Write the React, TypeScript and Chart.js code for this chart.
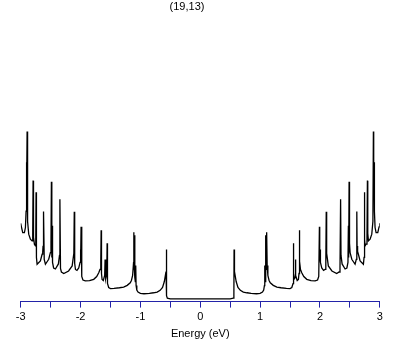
import { useEffect, useRef } from "react";
import { Chart, registerables } from "chart.js";

Chart.register(...registerables);

const chartTitle = "(19,13)";
const axisTitle = "Energy (eV)";
const tickValues = [-3, -2.5, -2, -1.5, -1, -0.5, 0, 0.5, 1, 1.5, 2, 2.5, 3];
const labeledTicks = [-3, -2, -1, 0, 1, 2, 3];

// Density of states, negative-energy half (eV, arbitrary units)
const energyLeft = [
  -3.0, -2.988, -2.966, -2.938, -2.921, -2.91, -2.905, -2.898, -2.893, -2.885,
  -2.866, -2.838, -2.81, -2.799, -2.793, -2.786, -2.771, -2.754, -2.748, -2.743,
  -2.737, -2.726, -2.671, -2.642, -2.632, -2.626, -2.621, -2.616, -2.607, -2.587,
  -2.532, -2.504, -2.494, -2.487, -2.48, -2.475, -2.468, -2.45, -2.42, -2.37,
  -2.352, -2.345, -2.335, -2.32, -2.28, -2.2, -2.14, -2.112, -2.105, -2.098,
  -2.085, -2.06, -2.03, -2.008, -2.002, -1.996, -1.991, -1.98, -1.96, -1.92,
  -1.85, -1.78, -1.73, -1.696, -1.675, -1.662, -1.656, -1.65, -1.64, -1.62,
  -1.597, -1.59, -1.585, -1.575, -1.562, -1.556, -1.55, -1.53, -1.5, -1.44,
  -1.35, -1.28, -1.22, -1.17, -1.15, -1.13, -1.118, -1.111, -1.108, -1.1,
  -1.095, -1.092, -1.085, -1.078, -1.072, -1.06, -1.04, -1.0, -0.94, -0.85,
  -0.78, -0.72, -0.67, -0.63, -0.6, -0.572, -0.565, -0.562, -0.55, -0.5,
];
const dosLeft = [
  7.8, 7.45, 6.88, 6.88, 7.38, 9.0, 13.88, 11.0, 16.95, 8.0,
  6.72, 6.22, 6.05, 6.8, 12.05, 6.4, 5.72, 5.55, 6.2, 10.88,
  4.4, 3.72, 4.05, 4.72, 5.0, 5.55, 5.0, 8.98, 4.2, 3.72,
  4.22, 4.88, 5.8, 11.95, 4.4, 7.55, 3.9, 3.35, 3.25, 3.75,
  4.6, 10.2, 3.3, 2.95, 2.8, 3.05, 3.55, 4.8, 8.95, 3.8,
  3.2, 3.1, 3.35, 3.9, 5.2, 4.0, 7.45, 2.5, 2.15, 2.06,
  2.08, 2.22, 2.5, 2.88, 3.2, 4.0, 7.1, 2.8, 2.2, 2.1,
  2.6, 4.2, 2.4, 2.3, 2.8, 5.8, 1.8, 1.4, 1.3, 1.32,
  1.38, 1.45, 1.62, 1.88, 2.1, 2.6, 3.6, 6.9, 3.4, 3.2,
  6.6, 2.4, 2.0, 3.6, 1.6, 1.15, 0.95, 0.82, 0.78, 0.82,
  0.88, 0.95, 1.12, 1.4, 2.0, 3.0, 5.2, 0.6, 0.35, 0.28,
];

// Density of states, positive-energy half (eV, arbitrary units)
const energyRight = [
  0.0, 0.5, 0.55, 0.562, 0.565, 0.572, 0.6, 0.63, 0.67, 0.72,
  0.78, 0.85, 0.94, 1.0, 1.04, 1.06, 1.072, 1.078, 1.085, 1.092,
  1.095, 1.1, 1.108, 1.111, 1.118, 1.13, 1.15, 1.17, 1.22, 1.28,
  1.35, 1.44, 1.5, 1.53, 1.55, 1.556, 1.562, 1.575, 1.585, 1.59,
  1.597, 1.62, 1.64, 1.65, 1.656, 1.662, 1.675, 1.696, 1.73, 1.78,
  1.85, 1.92, 1.96, 1.98, 1.991, 1.996, 2.002, 2.008, 2.03, 2.06,
  2.085, 2.098, 2.105, 2.112, 2.14, 2.2, 2.28, 2.32, 2.335, 2.345,
  2.352, 2.37, 2.42, 2.45, 2.468, 2.475, 2.48, 2.487, 2.494, 2.504,
  2.532, 2.587, 2.607, 2.616, 2.621, 2.626, 2.632, 2.642, 2.671, 2.726,
  2.737, 2.743, 2.748, 2.754, 2.771, 2.786, 2.793, 2.799, 2.81, 2.838,
  2.866, 2.885, 2.893, 2.898, 2.905, 2.91, 2.921, 2.938, 2.966, 2.988,
  3.0,
];
const dosRight = [
  0.28, 0.28, 0.35, 0.6, 5.2, 3.0, 2.0, 1.4, 1.12, 0.95,
  0.88, 0.82, 0.78, 0.82, 0.95, 1.15, 1.6, 3.6, 2.0, 2.4,
  6.6, 3.2, 3.4, 6.9, 3.6, 2.6, 2.1, 1.88, 1.62, 1.45,
  1.38, 1.32, 1.3, 1.4, 1.8, 5.8, 2.8, 2.3, 2.4, 4.2,
  2.6, 2.1, 2.2, 2.8, 7.1, 4.0, 3.2, 2.88, 2.5, 2.22,
  2.08, 2.06, 2.15, 2.5, 7.45, 4.0, 5.2, 3.9, 3.35, 3.1,
  3.2, 3.8, 8.95, 4.8, 3.55, 3.05, 2.8, 2.95, 3.3, 10.2,
  4.6, 3.75, 3.25, 3.35, 3.9, 7.55, 4.4, 11.95, 5.8, 4.88,
  4.22, 3.72, 4.2, 8.98, 5.0, 5.55, 5.0, 4.72, 4.05, 3.72,
  4.4, 10.88, 6.2, 5.55, 5.72, 6.4, 12.05, 6.8, 6.05, 6.22,
  6.72, 8.0, 16.95, 11.0, 13.88, 9.0, 7.38, 6.88, 6.88, 7.45,
  7.8,
];

const FONT = '"Liberation Sans", Arial, sans-serif';
const AXIS_BLUE = "#2323a8";

export default function App() {
  const ref = useRef<HTMLCanvasElement>(null);

  useEffect(() => {
    document.body.style.margin = "0";
    const energy = [...energyLeft, ...energyRight];
    const dos = [...dosLeft, ...dosRight];
    const points = energy.map((e, i) => ({ x: e, y: dos[i] }));

    const titlePlugin = {
      id: "topTitle",
      afterDraw(c: any) {
        const ctx = c.ctx;
        ctx.save();
        ctx.font = `11px ${FONT}`;
        ctx.fillStyle = "#000";
        ctx.textAlign = "center";
        ctx.textBaseline = "middle";
        ctx.fillText(chartTitle, 187, 7);
        ctx.restore();
      },
    };

    const chart = new Chart(ref.current as HTMLCanvasElement, {
      type: "line",
      data: {
        datasets: [
          {
            data: points,
            borderColor: "#000",
            borderWidth: 1.3,
            pointRadius: 0,
            tension: 0,
            fill: false,
          },
        ],
      },
      options: {
        animation: false,
        responsive: false,
        layout: { padding: { left: 20.7, right: 29.2, top: 20, bottom: 0 } },
        plugins: {
          legend: { display: false },
          tooltip: { enabled: false },
          title: { display: false },
        },
        scales: {
          x: {
            type: "linear",
            min: -3,
            max: 3,
            afterBuildTicks: (axis: any) => {
              axis.ticks = tickValues.map((v) => ({ value: v }));
            },
            ticks: {
              autoSkip: false,
              maxRotation: 0,
              padding: 3,
              color: "#000",
              font: { family: FONT, size: 11 },
              callback: (v: any) =>
                labeledTicks.includes(Number(v)) ? String(v) : "",
            },
            grid: {
              drawOnChartArea: false,
              drawTicks: true,
              tickLength: 6,
              color: AXIS_BLUE,
            },
            border: { color: AXIS_BLUE, width: 1 },
            title: {
              display: true,
              text: axisTitle,
              color: "#000",
              font: { family: FONT, size: 11 },
              padding: { top: 1, bottom: 4 },
            },
          },
          y: { display: false, min: 0, max: 28.05 },
        },
      },
      plugins: [titlePlugin],
    });

    return () => chart.destroy();
  }, []);

  return (
    <canvas
      ref={ref}
      width={409}
      height={345}
      style={{ display: "block", width: 409, height: 345 }}
    />
  );
}
